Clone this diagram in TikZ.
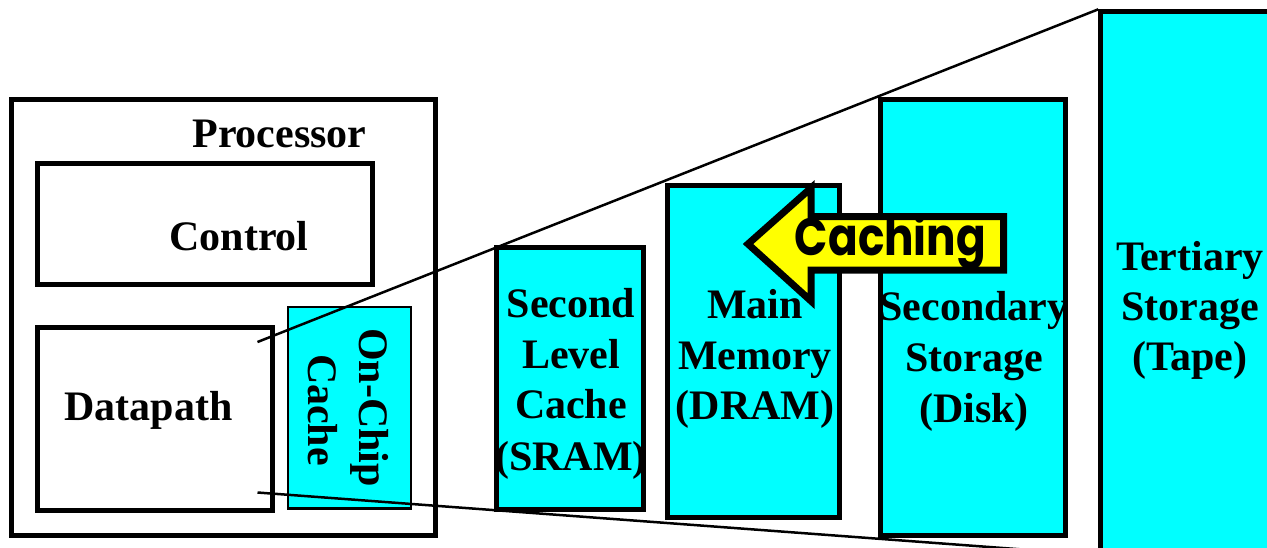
\documentclass[tikz,border=0pt]{standalone}
\usepackage{fontspec}
\setmainfont{Liberation Serif}
\newfontfamily\cachfont{Poppins}
\definecolor{cy}{RGB}{0,255,255}
\definecolor{yl}{RGB}{255,255,0}
\begin{document}
\begin{tikzpicture}[x=1pt,y=-1pt,
  box/.style={draw=black,line width=5pt,inner sep=0pt,rectangle},
  mem/.style={box,fill=cy},
  lbl/.style={font=\fontsize{42}{51}\selectfont\bfseries,inner sep=0pt,anchor=base},
  persp/.style={line width=2.5pt}]
\useasboundingbox (0,0) rectangle (1267,547);
\clip (0,0) rectangle (1267,547);

% processor and its parts
\node[box,minimum width=424pt,minimum height=436pt] (proc) at (223.5,317.5) {};
\node[box,minimum width=334.5pt,minimum height=120.5pt] (ctrl) at (204.75,223.75) {};
\node[box,minimum width=234.7pt,minimum height=183pt] (dp) at (155.15,419) {};
\node[mem,line width=2.5pt,minimum width=123pt,minimum height=201.5pt] (onchip) at (349.5,407.75) {};

% memory levels
\node[mem,minimum width=146.5pt,minimum height=261.7pt] (slc) at (569.95,378.35) {};
\node[mem,minimum width=171.7pt,minimum height=331.7pt] (mm) at (753.35,351.65) {};
\node[mem,minimum width=185pt,minimum height=436pt] (sec) at (973.3,317.8) {};
\node[mem,minimum width=199.2pt,minimum height=588.2pt] (tert) at (1200.4,305.9) {};

% labels
\node[lbl] (lproc) at (279.5,147) {Processor};
\node[lbl] (lctrl) at (239,250) {Control};
\node[lbl] (ldp) at (148.5,420) {Datapath};
\node[lbl,rotate=-90] (loc1) at (359,407.5) {On-Chip};
\node[lbl,rotate=-90] (loc2) at (308,410) {Cache};

\node[lbl] (ls1) at (571,317) {Second};
\node[lbl] (ls2) at (571,368) {Level};
\node[lbl] (ls3) at (571,418) {Cache};
\node[lbl] (ls4) at (571,470) {(SRAM)};

\node[lbl] (lm1) at (755,318) {Main};
\node[lbl] (lm2) at (755,369) {Memory};
\node[lbl] (lm3) at (755,419) {(DRAM)};

\node[lbl] (lsec1) at (974,320) {Secondary};
\node[lbl] (lsec2) at (974,371) {Storage};
\node[lbl] (lsec3) at (974,422) {(Disk)};

\node[lbl] (lt1) at (1190,270) {Tertiary};
\node[lbl] (lt2) at (1190,320) {Storage};
\node[lbl] (lt3) at (1190,370) {(Tape)};

% perspective lines
\coordinate (dpTop) at (257.5,342);
\coordinate (dpBot) at (257.5,492.5);
\coordinate (tBot) at (1100.8,555.3);
\draw[persp] (dpTop) -- (tert.north west);
\draw[persp] (dpBot) -- (tBot);

% caching arrow
\draw[line width=7pt,fill=yl,line join=miter,miter limit=20]
  (748,244) -- (811,188) -- (811,216.5) -- (1003.5,216.5) -- (1003.5,270)
  -- (811,270) -- (811,301) -- cycle;
\node[inner sep=0pt,anchor=base] (cach) at (890.5,255)
  {\resizebox{191pt}{42pt}{\cachfont\bfseries Caching}};
\end{tikzpicture}
\end{document}
